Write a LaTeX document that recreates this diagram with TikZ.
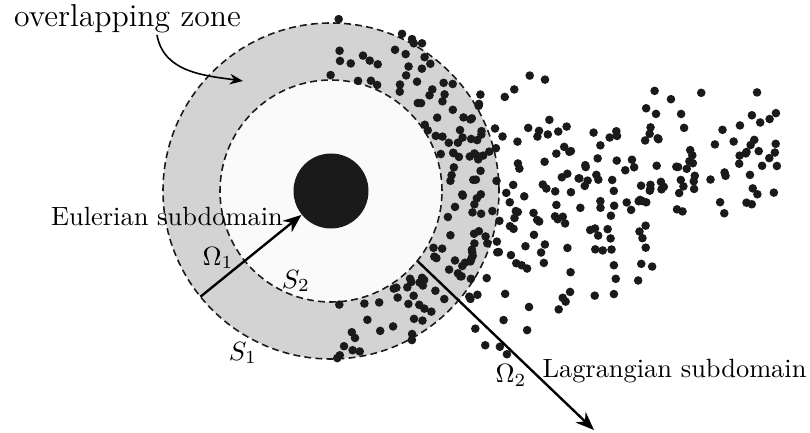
\documentclass[tikz,border=0pt]{standalone}
\usepackage{amsmath}
\usepackage{tikz}
\usetikzlibrary{arrows.meta,calc}

\definecolor{zonegray}{RGB}{211,211,211}
\definecolor{coregray}{RGB}{250,250,250}
\definecolor{ink}{RGB}{26,26,26}

\begin{document}
\begin{tikzpicture}[x=0.3788pt, y=0.3788pt,
  boundary/.style={draw=ink, line width=0.6pt, dash pattern=on 2.6pt off 1.6pt},
  particle/.style={fill=ink},
  domarrow/.style={-{Stealth[length=7pt,width=5.5pt]}, line width=0.9pt},
  pointer/.style={-{Stealth[length=5pt,width=4pt]}, line width=0.6pt}]
  \useasboundingbox (0,0) rectangle (810,432);
  \coordinate (ctr) at (331,241);

  % overlapping zone and Eulerian part
  \fill[zonegray] (ctr) circle[radius=168];
  \fill[coregray] (ctr) circle[radius=111];
  \draw[boundary] (ctr) circle[radius=168];
  \draw[boundary] (ctr) circle[radius=111];

  % particles inside the overlap
  \pgfmathsetseed{11}
  \foreach \k in {1,...,120}{
    \pgfmathsetmacro\ang{-88+180*rnd}
    \pgfmathsetmacro\rad{113+62*rnd}
    \fill[particle] ($(ctr)+(\ang:\rad)$) circle[radius=4.3];
  }
  % particles of the plume
  \foreach \k in {1,...,210}{
    \pgfmathsetmacro\lam{rnd^1.3}
    \pgfmathsetmacro\px{470+310*\lam}
    \pgfmathsetmacro\py{222+58*\lam+(165-100*\lam)*(rnd+rnd-1)}
    \fill[particle] (\px,\py) circle[radius=4.3];
  }

  % solid body
  \fill[ink] (ctr) circle[radius=37.5];

  \coordinate (rimA) at ($(ctr)+(219:168)$);
  \coordinate (coreA) at ($(ctr)+(219:38)$);
  \coordinate (rimB) at ($(ctr)+(-39:111)$);
  \coordinate (farB) at (594,2);
  \coordinate (olzFoot) at (157,397);
  \coordinate (olzTip) at (243,351);

  \node[font=\large, anchor=base] (olz) at (127.5,405) {overlapping zone};
  \node[anchor=base] (eul) at (167,206) {Eulerian subdomain};
  \node[anchor=base] (lag) at (674.5,55) {Lagrangian subdomain};
  \node (om1) at (218,174) {$\Omega_1$};
  \node (s2) at (296,151) {$S_2$};
  \node (s1) at (243,79) {$S_1$};
  \node (om2) at (511,57) {$\Omega_2$};

  \draw[domarrow] (rimA) -- (coreA);
  \draw[domarrow] (rimB) -- (farB);
  \draw[pointer] (olzFoot) to[out=-80,in=172] (olzTip);
\end{tikzpicture}
\end{document}
